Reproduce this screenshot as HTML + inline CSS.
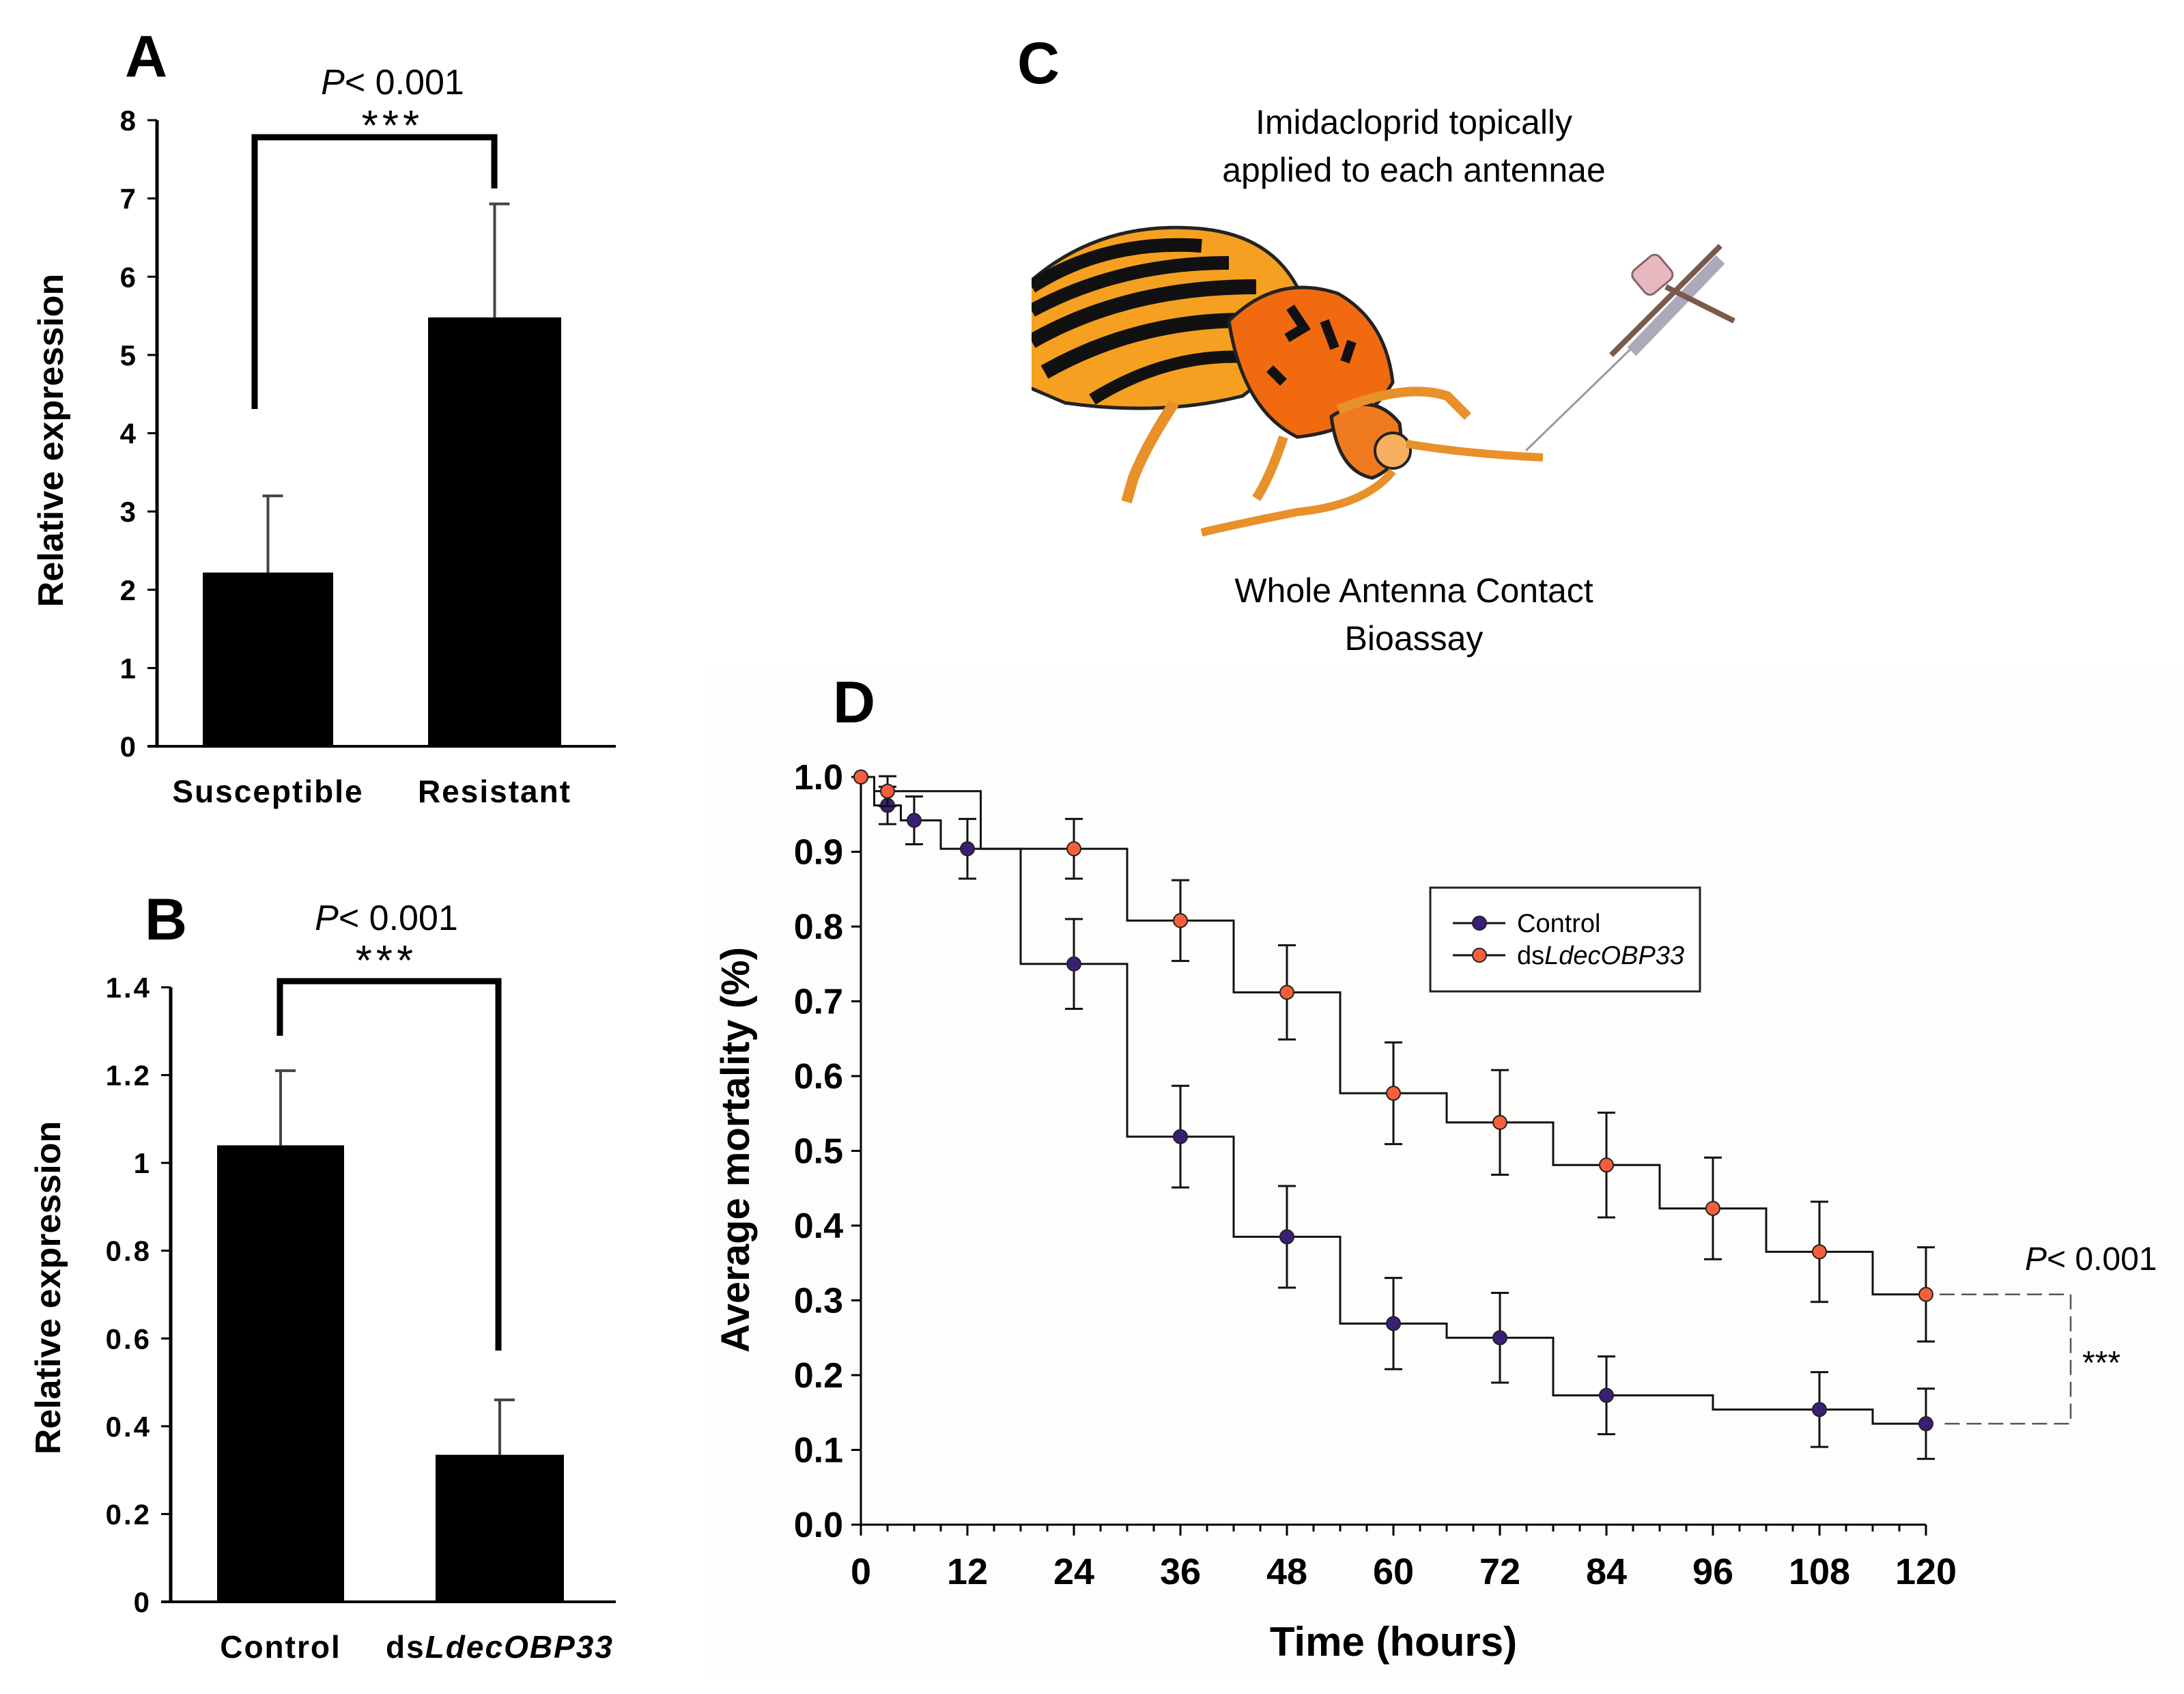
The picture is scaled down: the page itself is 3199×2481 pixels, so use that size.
<!DOCTYPE html>
<html><head><meta charset="utf-8"><style>
html,body{margin:0;padding:0;background:#fff}
svg{display:block}
text{font-family:"Liberation Sans",sans-serif}
.n{font-family:"Liberation Sans Narrow","Liberation Sans",sans-serif}
</style></head><body>
<svg id="fig" width="3199" height="2481" viewBox="0 0 3199 2481" xmlns="http://www.w3.org/2000/svg">
<rect x="1035" y="980" width="2164" height="1480" fill="#fdfdfb"/>
<g id="pa"></g>
<g id="pb"></g>
<g id="pc">
  <text x="1490" y="122" font-size="86" font-weight="bold">C</text>
  <text x="2071" y="196" font-size="50" text-anchor="middle">Imidacloprid topically</text>
  <text x="2071" y="266" font-size="50" text-anchor="middle">applied to each antennae</text>
  <text x="2071" y="882" font-size="50" text-anchor="middle">Whole Antenna Contact</text>
  <text x="2071" y="952" font-size="50" text-anchor="middle">Bioassay</text>
  <g>
    <clipPath id="clipL"><rect x="1511" y="300" width="900" height="520"/></clipPath>
    <g clip-path="url(#clipL)" stroke="#222" stroke-width="5">
      <path d="M1490,430 Q1600,320 1760,335 Q1860,345 1900,420 Q1900,520 1820,580 Q1700,610 1560,590 L1490,560 Z" fill="#f5a020"/>
      <path d="M1511,420 Q1620,350 1760,360" stroke="#111" stroke-width="20" fill="none"/>
      <path d="M1511,455 Q1640,385 1800,385" stroke="#111" stroke-width="20" fill="none"/>
      <path d="M1511,500 Q1650,420 1840,420" stroke="#111" stroke-width="22" fill="none"/>
      <path d="M1530,545 Q1680,460 1860,470" stroke="#111" stroke-width="22" fill="none"/>
      <path d="M1600,585 Q1720,510 1850,525" stroke="#111" stroke-width="18" fill="none"/>
    </g>
    <path d="M1800,470 Q1870,400 1960,430 Q2030,470 2040,560 Q2000,630 1900,640 Q1820,600 1800,470 Z" fill="#f26a10" stroke="#222" stroke-width="5"/>
    <path d="M1890,450 l20,30 l-25,15 M1940,470 l15,40 M1980,500 l-10,30 M1860,540 l20,20" stroke="#111" stroke-width="14" fill="none"/>
    <path d="M1950,610 Q2010,570 2050,620 Q2060,680 2010,700 Q1960,690 1950,610 Z" fill="#f07a20" stroke="#222" stroke-width="5"/>
    <circle cx="2040" cy="660" r="26" fill="#f7b060" stroke="#222" stroke-width="4"/>
    <path d="M2060,650 Q2150,665 2260,670" stroke="#e8902a" stroke-width="12" fill="none"/>
    <path d="M2040,690 Q2000,740 1900,750 Q1800,770 1760,780" stroke="#e8902a" stroke-width="12" fill="none"/>
    <path d="M1720,590 Q1680,650 1660,700 L1650,735" stroke="#e8902a" stroke-width="16" fill="none"/>
    <path d="M1960,600 Q2060,560 2120,580 L2150,610" stroke="#e8902a" stroke-width="14" fill="none"/>
    <path d="M1880,640 Q1860,700 1840,730" stroke="#e8902a" stroke-width="14" fill="none"/>
    <line x1="2235" y1="660" x2="2400" y2="500" stroke="#999" stroke-width="3"/>
    <path d="M2390,515 L2520,380" stroke="#aab" stroke-width="18"/>
    <path d="M2360,520 L2520,360 M2440,420 L2540,470" stroke="#7a5a4a" stroke-width="8"/>
    <rect x="2395" y="380" width="50" height="45" rx="10" fill="#e8b8c0" stroke="#866" stroke-width="3" transform="rotate(-40 2420 402)"/>
  </g>
</g>
<g id="pd"></g>
</svg>
<script>
// ---- Panel A data ----
const aCategories = ["Susceptible", "Resistant"];
const aValues = [2.22, 5.48];
const aErrors = [0.98, 1.45];
const aTicks = [0,1,2,3,4,5,6,7,8];
// ---- Panel B data ----
const bCategories = ["Control", "dsLdecOBP33"];
const bValues = [1.04, 0.335];
const bErrors = [0.17, 0.125];
const bTicks = ["0","0.2","0.4","0.6","0.8","1","1.2","1.4"];
// ---- Panel D data ----
const dTicksX = [0,12,24,36,48,60,72,84,96,108,120];
const dTicksY = ["0.0","0.1","0.2","0.3","0.4","0.5","0.6","0.7","0.8","0.9","1.0"];
const ctrlTimes = [0,3,6,12,24,36,48,60,72,84,108,120];
const ctrlValues = [1,0.962,0.942,0.904,0.75,0.519,0.385,0.269,0.25,0.173,0.154,0.135];
const ctrlErrors = [0,0.025,0.032,0.04,0.06,0.068,0.068,0.061,0.06,0.052,0.05,0.047];
const dsTimes = [0,3,24,36,48,60,72,84,96,108,120];
const dsValues = [1,0.981,0.904,0.808,0.712,0.577,0.538,0.481,0.423,0.365,0.308];
const dsErrors = [0,0.02,0.04,0.054,0.063,0.068,0.07,0.07,0.068,0.067,0.063];

const NS = "http://www.w3.org/2000/svg";
function mk(parent, tag, attrs, txt){
  const e = document.createElementNS(NS, tag);
  for (const k in attrs) e.setAttribute(k, attrs[k]);
  if (txt !== undefined) e.textContent = txt;
  parent.appendChild(e);
  return e;
}

function barPanel(g, cfg){
  const {ax, x1, y0, yTop, vmax, cats, vals, errs, ticks, tickVals, bars, label, labelPos, titleX, titleY, catY, bracket, pY, starY, pX} = cfg;
  const ys = v => y0 - (v / vmax) * (y0 - yTop);
  let e = mk(g,'line',{x1:ax,y1:yTop,x2:ax,y2:y0,stroke:'#000','stroke-width':5});
   
  e = mk(g,'line',{x1:ax-14,y1:y0,x2:x1,y2:y0,stroke:'#000','stroke-width':4});
   
  ticks.forEach((t,i)=>{
    const y = ys(tickVals[i]);
    mk(g,'line',{x1:ax-14,y1:y,x2:ax,y2:y,stroke:'#000','stroke-width':3});
    const tx = mk(g,'text',{x:ax-28,y:y+15,'font-size':42,'font-weight':'bold','text-anchor':'end','letter-spacing':'3'},String(t));
     
  });
  cats.forEach((c,i)=>{
    const [bx0,bx1] = bars[i];
    const r = mk(g,'rect',{x:bx0,y:ys(vals[i]),width:bx1-bx0,height:y0-ys(vals[i]),fill:'#000'});
     
    const cx = (bx0+bx1)/2, ey = ys(vals[i]+errs[i]);
    const eb = mk(g,'path',{d:`M${cx},${ys(vals[i])} V${ey} M${cx-8},${ey} H${cx+22}`,stroke:'#444','stroke-width':4,fill:'none'});
     
    const t = mk(g,'text',{x:cx,y:catY,'font-size':46,'font-weight':'bold','text-anchor':'middle','letter-spacing':'2'});
     
    if (c.startsWith('ds')) { mk(t,'tspan',{},'ds'); mk(t,'tspan',{'font-style':'italic'},c.slice(2)); }
    else t.textContent = c;
  });
  const [bl,br,bt,bbl,bbr] = bracket;
  const br1 = mk(g,'path',{d:`M${bl},${bbl} V${bt} H${br} V${bbr}`,stroke:'#000','stroke-width':9,fill:'none'});
   
  const p = mk(g,'text',{x:pX,y:pY,'font-size':52,'text-anchor':'middle'});
   
  mk(p,'tspan',{'font-style':'italic'},'P'); mk(p,'tspan',{},'< 0.001');
  const s = mk(g,'text',{x:pX,y:starY,'font-size':62,'text-anchor':'middle','letter-spacing':'6'},'***');
   
  const L = mk(g,'text',{x:labelPos[0],y:labelPos[1],'font-size':86,'font-weight':'bold'},label);
   
  const yt = mk(g,'text',{x:0,y:0,'font-size':52,'font-weight':'bold','text-anchor':'middle',transform:`translate(${titleX},${titleY}) rotate(-90)`},'Relative expression');
   
}

barPanel(document.getElementById('pa'),{ax:230,x1:902,y0:1093,yTop:176,vmax:8,cats:aCategories,vals:aValues,errs:aErrors,
  ticks:aTicks,tickVals:aTicks,bars:[[297,488],[627,822]],label:'A',labelPos:[183,112],titleX:92,titleY:645,catY:1175,
  bracket:[373,724,201,599,276],pX:575,pY:138,starY:205});
barPanel(document.getElementById('pb'),{ax:250,x1:902,y0:2346,yTop:1446,vmax:1.4,cats:bCategories,vals:bValues,errs:bErrors,
  ticks:bTicks,tickVals:bTicks.map(Number),bars:[[318,504],[638,826]],label:'B',labelPos:[212,1376],titleX:88,titleY:1886,catY:2428,
  bracket:[410,730,1437,1517,1978],pX:566,pY:1362,starY:1428});

// ---- Panel D ----
const gd = document.getElementById('pd');
const X0 = 1261, XPH = (2821-1261)/120, Y0 = 2233, YPU = (2233-1138);
const xs = t => X0 + t*XPH, ysD = v => Y0 - v*YPU;
let e = mk(gd,'line',{x1:X0,y1:ysD(1),x2:X0,y2:Y0,stroke:'#000','stroke-width':3});
 
e = mk(gd,'line',{x1:X0,y1:Y0,x2:xs(120),y2:Y0,stroke:'#000','stroke-width':3});
 
dTicksY.forEach(t=>{
  const y = ysD(Number(t));
  mk(gd,'line',{x1:X0-14,y1:y,x2:X0,y2:y,stroke:'#000','stroke-width':3});
  const tx = mk(gd,'text',{x:X0-26,y:y+18,'font-size':52,'font-weight':'bold','text-anchor':'end',class:'n'},t);
   
});
for (let h=0; h<=120; h+=3){
  const major = dTicksX.includes(h);
  mk(gd,'line',{x1:xs(h),y1:Y0,x2:xs(h),y2:Y0+(major?16:10),stroke:'#000','stroke-width':3});
}
dTicksX.forEach(t=>{
  const tx = mk(gd,'text',{x:xs(t),y:2320,'font-size':54,'font-weight':'bold','text-anchor':'middle',class:'n'},String(t));
   
});
e = mk(gd,'text',{x:xs(60),y:2425,'font-size':60,'font-weight':'bold','text-anchor':'middle',class:'n'},'Time (hours)');
 
e = mk(gd,'text',{x:0,y:0,'font-size':58,'font-weight':'bold','text-anchor':'middle',transform:`translate(1097,1684) rotate(-90)`},'Average mortality (%)');
 
const L = mk(gd,'text',{x:1220,y:1058,'font-size':86,'font-weight':'bold'},'D');
 

function series(times, vals, errs, color, name){
  let d = `M${xs(times[0])},${ysD(vals[0])}`;
  for (let i=1;i<times.length;i++){
    const mid = (times[i-1]+times[i])/2;
    d += ` H${xs(mid)} V${ysD(vals[i])}`;
  }
  d += ` H${xs(times[times.length-1])}`;
  const p = mk(gd,'path',{d:d,stroke:'#111','stroke-width':3,fill:'none'});
   
  times.forEach((t,i)=>{
    if (errs[i]>0){
      const x = xs(t), a = ysD(vals[i]+errs[i]), b = ysD(vals[i]-errs[i]);
      const eb = mk(gd,'path',{d:`M${x},${a} V${b} M${x-13},${a} H${x+13} M${x-13},${b} H${x+13}`,stroke:'#111','stroke-width':3,fill:'none'});
       
    }
  });
  times.forEach((t,i)=>{
    const c = mk(gd,'circle',{cx:xs(t),cy:ysD(vals[i]),r:10,fill:color,stroke:'#222','stroke-width':2});
     
  });
}
series(ctrlTimes, ctrlValues, ctrlErrors, '#3a1f78', 'control');
series(dsTimes, dsValues, dsErrors, '#f5603a', 'dsldecobp33');

const yA = ysD(dsValues[dsValues.length-1]), yB = ysD(ctrlValues[ctrlValues.length-1]);
e = mk(gd,'path',{d:`M${xs(120)+20},${yA} H3033 V${yB} H${xs(120)+20}`,stroke:'#555','stroke-width':2.5,fill:'none','stroke-dasharray':'22 10'});
 
e = mk(gd,'text',{x:2966,y:1860,'font-size':48});
 
mk(e,'tspan',{'font-style':'italic'},'P'); mk(e,'tspan',{},'< 0.001');
e = mk(gd,'text',{x:3050,y:2012,'font-size':48},'***');
 

const lg = mk(gd,'g',{});
 
mk(lg,'rect',{x:2095,y:1300,width:395,height:152,fill:'#fff',stroke:'#222','stroke-width':3});
[['Control','#3a1f78',1352,false],['LdecOBP33','#f5603a',1399,true]].forEach(([lab,col,y,ds])=>{
  const en = mk(lg,'g',{});
   
  mk(en,'line',{x1:2128,y1:y,x2:2205,y2:y,stroke:'#111','stroke-width':3});
  mk(en,'circle',{cx:2167,cy:y,r:10,fill:col,stroke:'#222','stroke-width':2});
  const t = mk(en,'text',{x:2222,y:y+13,'font-size':38,class:'n'});
  if (ds){ mk(t,'tspan',{},'ds'); mk(t,'tspan',{'font-style':'italic'},lab); } else t.textContent = lab;
});
</script>
</body></html>
